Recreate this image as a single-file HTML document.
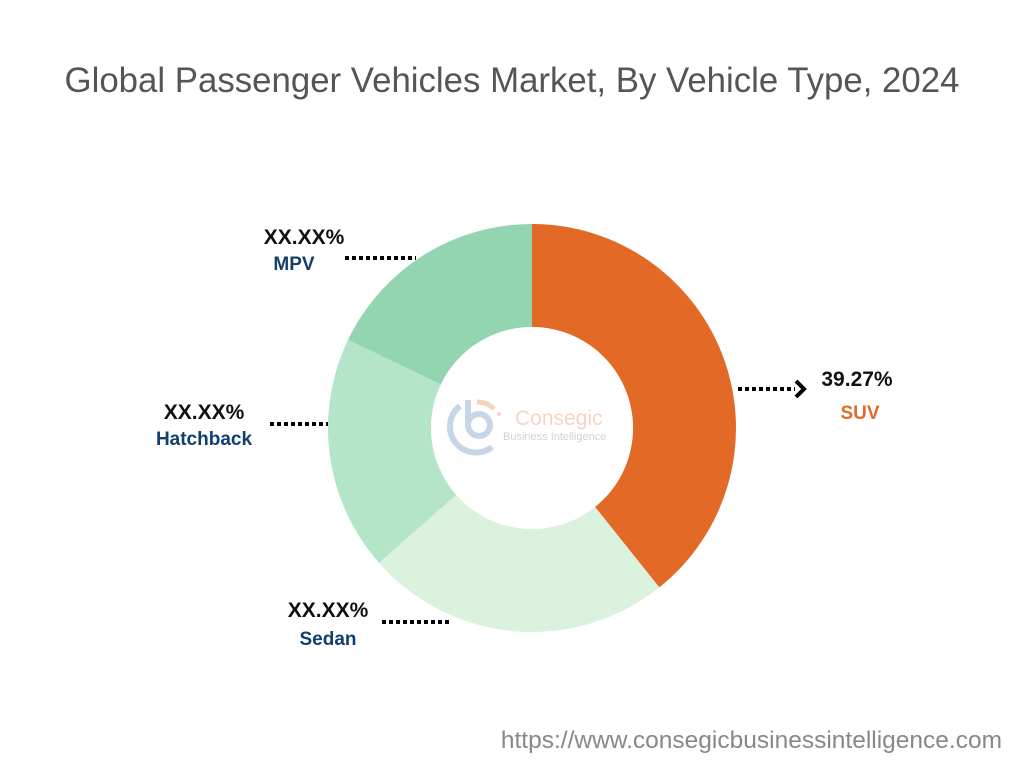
<!DOCTYPE html>
<html><head><meta charset="utf-8"><style>
html,body{margin:0;padding:0;background:#fff;}
svg{display:block;}
text{font-family:"Liberation Sans",sans-serif;}
</style></head><body>
<svg width="1024" height="768" viewBox="0 0 1024 768">
<rect width="1024" height="768" fill="#fff"/>
<text x="512" y="92" text-anchor="middle" font-size="34.8" fill="#555">Global Passenger Vehicles Market, By Vehicle Type, 2024</text>
<path d="M532,224 A204,204 0 0 1 659.3,587.4 L595,506.9 A101,101 0 0 0 532,327 Z" fill="#E36A26"/>
<path d="M659.3,587.4 A204,204 0 0 1 379,562.9 L456.2,494.8 A101,101 0 0 0 595,506.9 Z" fill="#DBF2DF"/>
<path d="M379,562.9 A204,204 0 0 1 348,339.9 L440.9,384.4 A101,101 0 0 0 456.2,494.8 Z" fill="#B5E5C8"/>
<path d="M348,339.9 A204,204 0 0 1 532,224 L532,327 A101,101 0 0 0 440.9,384.4 Z" fill="#93D5B0"/>
<circle cx="532" cy="428" r="101" fill="#fff"/>
<g opacity="0.45">
<path d="M460,406 A25,25 0 1 0 492,447" fill="none" stroke="#7FA6CC" stroke-width="6"/>
<circle cx="479" cy="425" r="11" fill="none" stroke="#7FA6CC" stroke-width="6"/>
<line x1="468" y1="400" x2="468" y2="427" stroke="#7FA6CC" stroke-width="6"/>
<path d="M477,402 A24,24 0 0 1 494,409" fill="none" stroke="#E9A27A" stroke-width="5"/>
<circle cx="499" cy="414" r="2" fill="#E9A27A"/>
<text x="515" y="425" font-size="21" fill="#E9A27A">Consegic</text>
<text x="503" y="440" font-size="11" fill="#9a9a9a">Business Intelligence</text>
</g>
<g stroke="#000" stroke-width="4" stroke-dasharray="4 3" fill="none">
<line x1="345" y1="258" x2="416" y2="258"/>
<line x1="270" y1="424" x2="328" y2="424"/>
<line x1="382" y1="622" x2="452" y2="622"/>
<line x1="738" y1="389" x2="795" y2="389"/>
</g>
<path d="M796,381 L804,389 L796,397" fill="none" stroke="#000" stroke-width="4"/>
<g font-weight="bold" font-size="21">
<text x="304" y="244" text-anchor="middle" fill="#111">XX.XX%</text>
<text x="294" y="270" text-anchor="middle" fill="#123F6B" font-size="19">MPV</text>
<text x="204" y="419" text-anchor="middle" fill="#111">XX.XX%</text>
<text x="204" y="445" text-anchor="middle" fill="#123F6B" font-size="19">Hatchback</text>
<text x="328" y="617" text-anchor="middle" fill="#111">XX.XX%</text>
<text x="328" y="645" text-anchor="middle" fill="#123F6B" font-size="19">Sedan</text>
<text x="857" y="386" text-anchor="middle" fill="#111">39.27%</text>
<text x="860" y="419" text-anchor="middle" fill="#E36A26" font-size="19">SUV</text>
</g>
<text x="1002" y="748" text-anchor="end" font-size="24.5" fill="#888">https://www.consegicbusinessintelligence.com</text>
</svg>
</body></html>
